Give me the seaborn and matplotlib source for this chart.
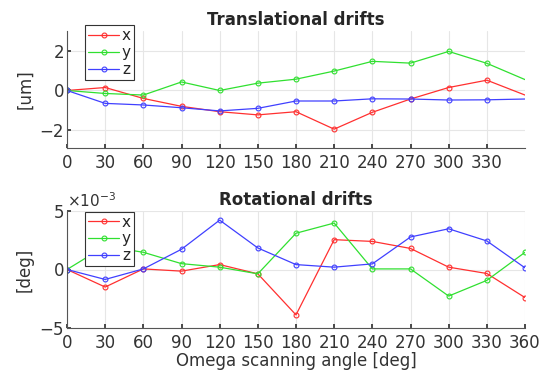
import numpy as np
import pandas as pd
import matplotlib
matplotlib.use("Agg")
import matplotlib.pyplot as plt
import seaborn as sns
from matplotlib.ticker import ScalarFormatter

angles = [0, 30, 60, 90, 120, 150, 180, 210, 240, 270, 300, 330, 360]

trans_x = [0, 0.15, -0.4, -0.8, -1.07, -1.23, -1.07, -1.95, -1.1, -0.43, 0.15, 0.52, -0.23]
trans_y = [0, -0.15, -0.23, 0.43, 0.0, 0.37, 0.57, 0.98, 1.47, 1.38, 1.97, 1.37, 0.55]
trans_z = [0, -0.65, -0.73, -0.87, -1.03, -0.9, -0.53, -0.53, -0.42, -0.43, -0.48, -0.47, -0.43]

rot_x = [0, -1.5e-3, 0.05e-3, -0.14e-3, 0.42e-3, -0.37e-3, -3.88e-3, 2.55e-3, 2.4e-3, 1.8e-3, 0.2e-3, -0.34e-3, -2.4e-3]
rot_y = [0, 2.0e-3, 1.47e-3, 0.5e-3, 0.2e-3, -0.37e-3, 3.1e-3, 3.97e-3, 0.05e-3, 0.05e-3, -2.27e-3, -0.93e-3, 1.47e-3]
rot_z = [0, -0.85e-3, 0.05e-3, 1.73e-3, 4.22e-3, 1.84e-3, 0.42e-3, 0.2e-3, 0.48e-3, 2.78e-3, 3.48e-3, 2.44e-3, 0.14e-3]

labels = ["x", "y", "z"]
colors = ["#ff3030", "#30e030", "#4040ff"]

sns.set_theme(style="whitegrid")
plt.rcParams["font.family"] = ["DejaVu Sans"]

fig = plt.figure(figsize=(5.56, 3.76), dpi=100)
ax1 = fig.add_axes([67/556, 1-148/376, 458/556, 117/376])
ax2 = fig.add_axes([67/556, 1-328/376, 458/556, 117/376])

fs = 12

def draw(ax, series, markevery, anchor_y):
    for ys, lab, c in zip(series, labels, colors):
        df = pd.DataFrame({"angle": angles, "v": ys})
        sns.lineplot(data=df, x="angle", y="v", ax=ax, color=c, lw=0.9,
                     marker="o", markersize=3.5, markerfacecolor="none",
                     markeredgecolor=c, markeredgewidth=0.8,
                     markevery=markevery, label=lab)
    ax.set_xlim(0, 360)
    ax.grid(True, color="#e6e6e6", lw=0.8)
    for s in ["top", "right"]:
        ax.spines[s].set_visible(False)
    for s in ["left", "bottom"]:
        ax.spines[s].set_color("#555555")
        ax.spines[s].set_linewidth(0.8)
    ax.tick_params(axis="both", labelsize=fs, colors="#333333", length=3,
                   direction="in", pad=2, left=True, bottom=True)
    ax.tick_params(axis="x", pad=4)
    leg = ax.legend(loc="upper left", bbox_to_anchor=(0.04, anchor_y), fontsize=fs - 1,
                    frameon=True, fancybox=False, handlelength=2.0,
                    handletextpad=0.2, borderpad=0.2, labelspacing=0.12,
                    borderaxespad=0.0)
    leg.get_frame().set_edgecolor("#333333")
    leg.get_frame().set_linewidth(0.8)
    leg.get_frame().set_alpha(1)

draw(ax1, [trans_x, trans_y, trans_z], slice(0, 12), 1.05)
ax1.set_xticks([0, 30, 60, 90, 120, 150, 180, 210, 240, 270, 300, 330])
ax1.set_ylim(-2.9, 3.0)
ax1.set_yticks([-2, 0, 2])
ax1.set_xlabel("")
ax1.set_ylabel("[um]", fontsize=fs, color="#333333", labelpad=4)
ax1.set_title("Translational drifts", fontsize=fs, fontweight="bold", pad=4)

draw(ax2, [rot_x, rot_y, rot_z], None, 0.995)
ax2.set_xticks(angles)
ax2.set_ylim(-5e-3, 5e-3)
ax2.set_yticks([-5e-3, 0, 5e-3])
fmt = ScalarFormatter(useMathText=True)
fmt.set_powerlimits((-2, 2))
ax2.yaxis.set_major_formatter(fmt)
ax2.yaxis.get_offset_text().set_fontsize(fs - 1)
ax2.yaxis.get_offset_text().set_color("#333333")
ax2.set_xlabel("Omega scanning angle [deg]", fontsize=fs, color="#333333", labelpad=0)
ax2.set_ylabel("[deg]", fontsize=fs, color="#333333", labelpad=4)
ax2.set_title("Rotational drifts", fontsize=fs, fontweight="bold", pad=4)

fig.savefig("out.png", dpi=100)
